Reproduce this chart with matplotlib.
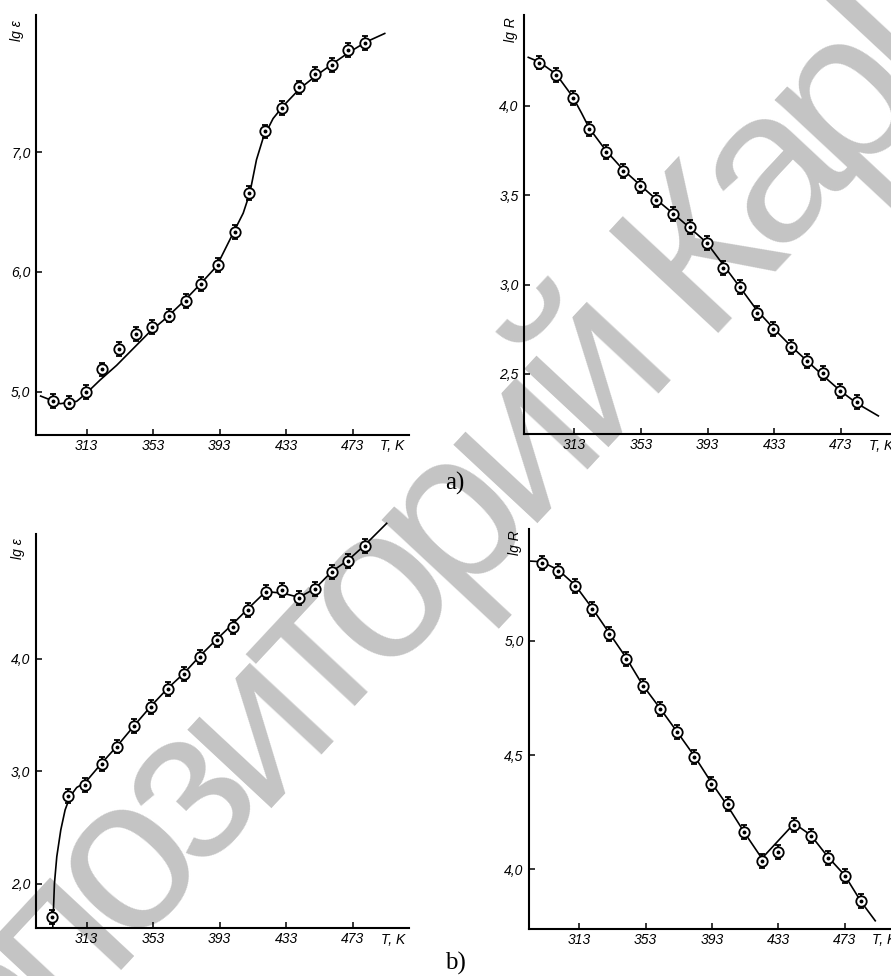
import math
import matplotlib
matplotlib.use("Agg")
import matplotlib.pyplot as plt
from matplotlib.transforms import ScaledTranslation

plt.rcParams['font.family'] = ['Liberation Sans', 'DejaVu Sans']

# ---------------- data ----------------
# (a) left: lg eps vs T
a_eps_T = [292.5, 302.5, 312.5, 322.5, 332.5, 342.5, 352.5, 362.5, 372.5, 382,
           392, 402, 411, 420.5, 430.5, 440.5, 450.5, 460.5, 470.5, 480.5]
a_eps_v = [4.92, 4.91, 4.995, 5.186, 5.353, 5.48, 5.54, 5.636, 5.756, 5.90,
           6.061, 6.331, 6.658, 7.172, 7.367, 7.539, 7.65, 7.728, 7.85, 7.908]
a_eps_err = 0.058
a_eps_curve_T = [285.3, 297, 307, 313, 321, 331, 341, 351, 361, 371.1, 381.1, 391.2,
                 401.2, 407.2, 411.2, 415.2, 419.2, 425.2, 431.2, 441.3, 451.3,
                 461.3, 471.3, 481.3, 492.4]
a_eps_curve_v = [4.964, 4.90, 4.92, 4.99, 5.097, 5.22, 5.36, 5.50, 5.617, 5.75, 5.894,
                 6.047, 6.325, 6.49, 6.658, 6.936, 7.117, 7.28, 7.383, 7.53, 7.64,
                 7.74, 7.836, 7.92, 7.99]

# (a) right: lg R vs T
a_R_T = [292, 302, 312, 322, 332, 342.4, 352.4, 362, 372.4, 382.4,
         392.4, 402.4, 412.4, 422.4, 432.4, 442.8, 452.4, 462.4, 472.4, 482.4]
a_R_v = [4.243, 4.174, 4.043, 3.869, 3.744, 3.636, 3.554, 3.472, 3.394, 3.323,
         3.235, 3.095, 2.985, 2.843, 2.754, 2.651, 2.573, 2.504, 2.405, 2.345]
a_R_err = 0.039
a_R_curve_T = [285.4, 292, 302, 312, 317.4, 322, 332, 342.4, 352.4, 362, 372.4, 382.4,
               392.4, 402.4, 412.4, 422.4, 432.4, 442.8, 452.4, 462.4, 472.4, 482.4, 495.4]
a_R_curve_v = [4.272, 4.246, 4.179, 4.052, 3.959, 3.875, 3.75, 3.642, 3.558, 3.478,
               3.397, 3.317, 3.235, 3.11, 2.985, 2.858, 2.756, 2.657, 2.575, 2.489,
               2.407, 2.336, 2.265]

# (b) left: lg eps vs T
b_eps_T = [292.4, 302, 312, 322, 331.4, 341.7, 351.7, 361.7, 371.5, 381.1,
           391.2, 401.2, 410.2, 420.6, 430.6, 440.7, 450.5, 460.3, 470.3, 480.3]
b_eps_v = [1.71, 2.778, 2.881, 3.065, 3.222, 3.406, 3.576, 3.733, 3.867, 4.021,
           4.169, 4.287, 4.436, 4.596, 4.613, 4.539, 4.619, 4.776, 4.874, 5.004]
b_eps_err = 0.062
b_eps_curve_T = [292.6, 293.6, 295, 297.4, 300, 303, 307, 312, 322, 331.4, 341.7,
                 351.7, 361.7, 371.5, 381.1, 391.2, 401.2, 410.2, 419.2, 423.2,
                 431.2, 440.7, 450.5, 460.3, 470.3, 480.3, 493.4]
b_eps_curve_v = [1.62, 2.006, 2.243, 2.48, 2.658, 2.778, 2.858, 2.90, 3.074, 3.228,
                 3.41, 3.582, 3.739, 3.873, 4.027, 4.175, 4.317, 4.45, 4.578, 4.596,
                 4.584, 4.548, 4.628, 4.776, 4.88, 5.013, 5.206]

# (b) right: lg R vs T
b_R_T = [290.3, 300.3, 310.4, 320.8, 330.9, 341.2, 351.2, 361.7, 372.2, 382.2,
         392.3, 402.5, 412.6, 423.1, 432.7, 442.6, 452.6, 462.9, 473, 483]
b_R_v = [5.340, 5.308, 5.241, 5.140, 5.031, 4.921, 4.803, 4.702, 4.601, 4.493,
         4.374, 4.286, 4.165, 4.038, 4.077, 4.194, 4.147, 4.051, 3.972, 3.861]
b_R_err = 0.031
b_R_curve_T = [282.8, 290.3, 300.3, 310.4, 320.8, 330.9, 341.2, 351.2, 361.7, 372.2,
               382.2, 392.3, 402.5, 412.6, 423.1, 442.6, 452.6, 462.9, 473, 483, 491.5]
b_R_curve_v = [5.350, 5.347, 5.311, 5.245, 5.143, 5.036, 4.927, 4.807, 4.705, 4.6,
               4.498, 4.384, 4.277, 4.161, 4.048, 4.201, 4.150, 4.055, 3.975, 3.858,
               3.775]

x_ticks = [313, 353, 393, 433, 473]
x_tick_labels = ['313', '353', '393', '433', '473']
a_eps_yticks = [5.0, 6.0, 7.0]
a_eps_ylabels = ['5,0', '6,0', '7,0']
a_R_yticks = [2.5, 3.0, 3.5, 4.0]
a_R_ylabels = ['2,5', '3,0', '3,5', '4,0']
b_eps_yticks = [2.0, 3.0, 4.0]
b_eps_ylabels = ['2,0', '3,0', '4,0']
b_R_yticks = [4.0, 4.5, 5.0]
b_R_ylabels = ['4,0', '4,5', '5,0']

watermark = 'Репозиторий КарГУ'
# relative advance widths of the watermark letters (em)
watermark_adv = [0.667, 0.556, 0.546, 0.556, 0.454, 0.56, 0.427, 0.556, 0.556,
                 0.56, 0.56, 0.278, 0.583, 0.556, 0.556, 0.552, 0.635]

# ---------------- figure ----------------
W, H = 891, 976
fig = plt.figure(figsize=(W / 100, H / 100), dpi=100)
fig.patch.set_facecolor('white')


def make_ax(left, top, right, bottom):
    return fig.add_axes([left / W, 1 - bottom / H, (right - left) / W, (bottom - top) / H])


panels = [
    dict(box=(36, 15, 409, 435), xlim=(282.5, 507), ylim=(4.639, 8.144),
         T=a_eps_T, v=a_eps_v, err=a_eps_err, cT=a_eps_curve_T, cv=a_eps_curve_v,
         yt=a_eps_yticks, yl=a_eps_ylabels, lab='lg ε', loff=(-19, -16)),
    dict(box=(524.3, 15, 891, 434.3), xlim=(283, 503), ylim=(2.162, 4.509),
         T=a_R_T, v=a_R_v, err=a_R_err, cT=a_R_curve_T, cv=a_R_curve_v,
         yt=a_R_yticks, yl=a_R_ylabels, lab='lg R', loff=(-13, -15)),
    dict(box=(36, 534, 409.3, 928.3), xlim=(282.5, 507), ylim=(1.606, 5.111),
         T=b_eps_T, v=b_eps_v, err=b_eps_err, cT=b_eps_curve_T, cv=b_eps_curve_v,
         yt=b_eps_yticks, yl=b_eps_ylabels, lab='lg ε', loff=(-18, -15)),
    dict(box=(529.3, 529.3, 891, 929), xlim=(282.8, 501), ylim=(3.739, 5.489),
         T=b_R_T, v=b_R_v, err=b_R_err, cT=b_R_curve_T, cv=b_R_curve_v,
         yt=b_R_yticks, yl=b_R_ylabels, lab='lg R', loff=(-14, -13)),
]

for p in panels:
    ax = make_ax(*p['box'])
    ax.patch.set_visible(False)
    ax.set_xlim(*p['xlim'])
    ax.set_ylim(*p['ylim'])
    for s in ('top', 'right'):
        ax.spines[s].set_visible(False)
    for s in ('left', 'bottom'):
        ax.spines[s].set_linewidth(1.5)
    ax.set_xticks(x_ticks)
    ax.set_xticklabels(x_tick_labels, fontstyle='italic')
    ax.set_yticks(p['yt'])
    ax.set_yticklabels(p['yl'], fontstyle='italic')
    ax.tick_params(direction='in', length=4, width=1.1, labelsize=10, pad=4)
    ax.tick_params(axis='x', pad=3)
    ax.plot(p['cT'], p['cv'], color='black', lw=1.2, zorder=3, clip_on=False)
    ax.errorbar(p['T'], p['v'], yerr=p['err'], fmt='none', ecolor='black',
                elinewidth=1.3, capsize=2.5, capthick=1.3, zorder=4, clip_on=False)
    ax.plot(p['T'], p['v'], linestyle='none', marker='o', ms=7.5, mfc='white',
            mec='black', mew=1.3, zorder=5, clip_on=False)
    ax.plot(p['T'], p['v'], linestyle='none', marker='o', ms=1.8, mfc='black',
            mec='black', zorder=6, clip_on=False)
    ax.text(497, 0, 'T, K', transform=ax.get_xaxis_transform() +
            ScaledTranslation(0, -0.045, fig.dpi_scale_trans),
            ha='center', va='top', fontsize=10, fontstyle='italic')
    dx, dy = p['loff']
    ax.text(0, 1, p['lab'], transform=ax.transAxes +
            ScaledTranslation(dx / 100, dy / 100, fig.dpi_scale_trans),
            rotation=90, ha='center', va='center', fontsize=10, fontstyle='italic')

fig.text(455 / W, 1 - 483 / H, 'a)', ha='center', va='center', fontsize=18,
         family='Liberation Serif')
fig.text(455 / W, 1 - 963 / H, 'b)', ha='center', va='center', fontsize=18,
         family='Liberation Serif')

# watermark: letters laid out one by one along a rotated baseline
theta = 47.0
em_adv = 186.0          # advance scale, px
wm_size = 157           # pt
start_x, start_y = -90.0, 1180.0   # baseline start, px from top-left
dxu, dyu = math.cos(math.radians(theta)), -math.sin(math.radians(theta))
cum = 0.0
for ch, w in zip(watermark, watermark_adv):
    c = cum + w / 2
    px = start_x + c * em_adv * dxu
    py = start_y + c * em_adv * dyu
    cum += w
    if ch == ' ':
        continue
    fig.text(px / W, 1 - py / H, ch, rotation=theta, rotation_mode='anchor',
             ha='center', va='baseline', fontsize=wm_size, color='#c4c4c4',
             family='Liberation Sans', zorder=-1)

fig.savefig('out.png', dpi=100, facecolor='white')
